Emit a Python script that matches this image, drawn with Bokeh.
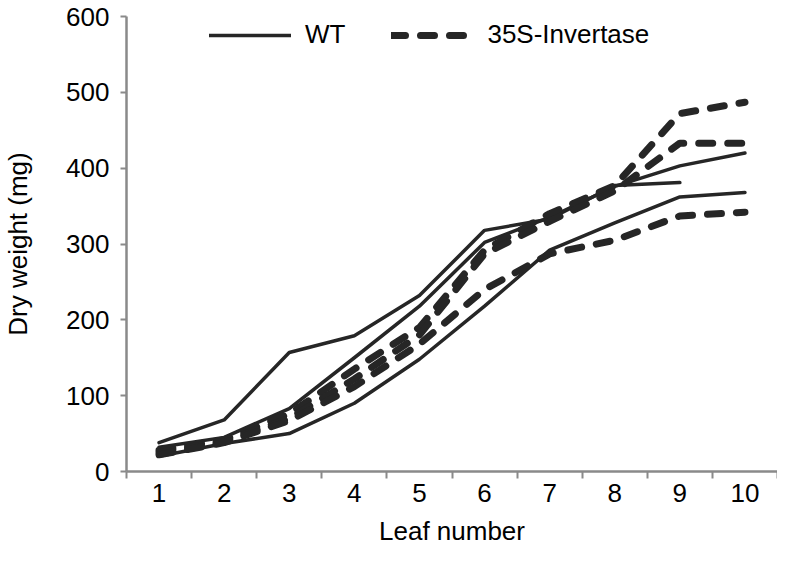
from bokeh.plotting import figure
from bokeh.models import FixedTicker, Legend, LegendItem, Range1d
from bokeh.embed import file_html
from bokeh.resources import INLINE

# ---- data ----
leaf = [1, 2, 3, 4, 5, 6, 7, 8, 9, 10]
x_tick_labels = ["1", "2", "3", "4", "5", "6", "7", "8", "9", "10"]
y_ticks = [0, 100, 200, 300, 400, 500, 600]

# WT (solid lines)
wt_a = [38, 68, 157, 179, 232, 318, 333, 377, 381]          # leaves 1-9
wt_b = [32, 45, 83, 150, 218, 302, 335, 376, 403, 420]
wt_c = [20, 37, 50, 90, 148, 218, 292, 328, 362, 368]
# 35S-Invertase (dashed lines)
inv_a = [28, 42, 76, 135, 190, 292, 340, 377, 472, 487]
inv_b = [25, 40, 70, 122, 180, 287, 330, 370, 433, 433]
inv_c = [22, 38, 67, 112, 168, 240, 287, 305, 337, 342]

FONT = "Liberation Sans"
LINE = "#262626"
AXIS = "#8a8a8a"

p = figure(width=777, height=548, output_backend="svg", toolbar_location=None,
           x_range=Range1d(0.5, 10.5), y_range=Range1d(0, 600),
           min_border_left=119, min_border_right=0, min_border_top=16,
           min_border_bottom=77)
p.outline_line_color = None
p.xgrid.visible = False
p.ygrid.visible = False
p.background_fill_color = "white"
p.border_fill_color = "white"

solid_items = []
for ys in (wt_a, wt_b, wt_c):
    r = p.line(leaf[:len(ys)], ys, line_color=LINE, line_width=3.5,
               line_join="round", line_cap="round")
    solid_items.append(r)

dash_items = []
for ys in (inv_a, inv_b, inv_c):
    r = p.line(leaf[:len(ys)], ys, line_color=LINE, line_width=7,
               line_dash="14 15", line_join="round", line_cap="round")
    dash_items.append(r)

legend = Legend(items=[LegendItem(label="WT", renderers=[solid_items[0]]),
                       LegendItem(label="35S-Invertase", renderers=[dash_items[0]])],
                orientation="horizontal", location=(83, 421),
                glyph_width=82, glyph_height=26, label_standoff=14, spacing=46,
                padding=0, margin=0, border_line_alpha=0, background_fill_alpha=0,
                label_text_font=FONT, label_text_font_size="26px",
                label_text_color="black")
p.add_layout(legend)

# x axis: labels at leaf centres, tick marks at category boundaries
boundaries = [v - 0.5 for v in leaf] + [leaf[-1] + 0.5]
xa = p.xaxis[0]
xa.ticker = FixedTicker(ticks=leaf, minor_ticks=boundaries)
xa.major_label_overrides = {v: s for v, s in zip(leaf, x_tick_labels)}
xa.major_tick_out = 0
xa.major_tick_in = 0
xa.minor_tick_out = 7
xa.minor_tick_in = 0
xa.minor_tick_line_color = AXIS
xa.minor_tick_line_width = 2
xa.axis_line_color = AXIS
xa.axis_line_width = 2.5
xa.major_label_text_font = FONT
xa.major_label_text_font_size = "26px"
xa.major_label_text_color = "black"
xa.major_label_standoff = 5
xa.axis_label = "Leaf number"
xa.axis_label_text_font = FONT
xa.axis_label_text_font_size = "26px"
xa.axis_label_text_font_style = "normal"
xa.axis_label_text_color = "black"
xa.axis_label_standoff = 11

ya = p.yaxis[0]
ya.ticker = FixedTicker(ticks=y_ticks)
ya.minor_tick_line_color = None
ya.major_tick_out = 6
ya.major_tick_in = 0
ya.major_tick_line_color = AXIS
ya.major_tick_line_width = 2
ya.axis_line_color = AXIS
ya.axis_line_width = 2.5
ya.major_label_text_font = FONT
ya.major_label_text_font_size = "26px"
ya.major_label_text_color = "black"
ya.major_label_standoff = 11
ya.axis_label = "Dry weight (mg)"
ya.axis_label_text_font = FONT
ya.axis_label_text_font_size = "26px"
ya.axis_label_text_font_style = "normal"
ya.axis_label_text_color = "black"
ya.axis_label_standoff = 30

open("out.html", "w").write(file_html(p, INLINE))
